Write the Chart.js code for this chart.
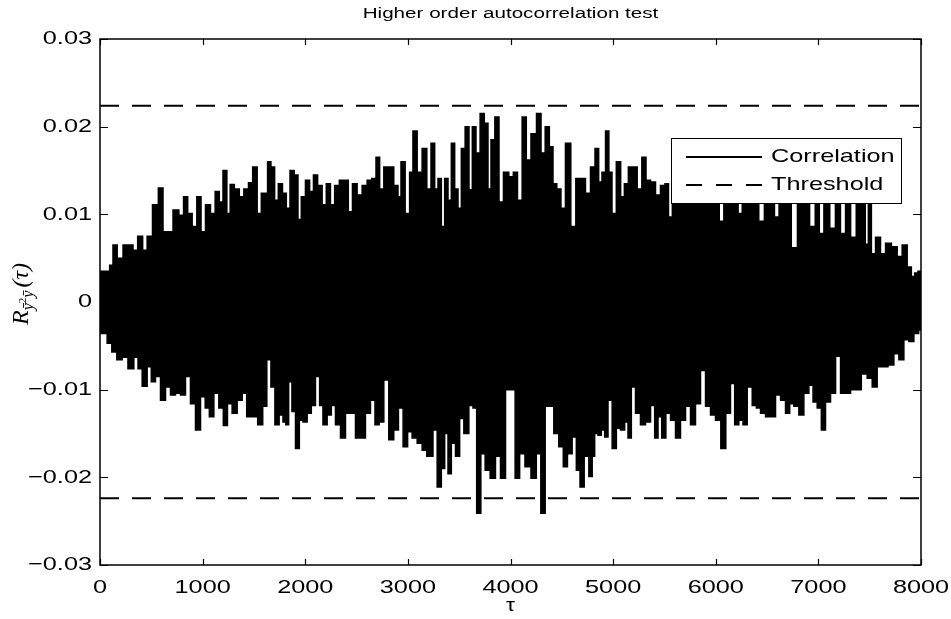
<!DOCTYPE html>
<html>
<head>
<meta charset="utf-8">
<script src="https://cdn.jsdelivr.net/npm/chart.js@4.4.1/dist/chart.umd.min.js"></script>
<style>
html,body{margin:0;padding:0;background:#fff;}
canvas{display:block;}
</style>
</head>
<body>
<canvas id="c" width="951" height="619"></canvas>
<script>
// ---- data ----
const chartTitle = 'Higher order autocorrelation test';
const xTickValues = [0,1000,2000,3000,4000,5000,6000,7000,8000];
const xTickLabels = ['0','1000','2000','3000','4000','5000','6000','7000','8000'];
const yTickValues = [-0.03,-0.02,-0.01,0,0.01,0.02,0.03];
const yTickLabels = ['\u22120.03','\u22120.02','\u22120.01','0','0.01','0.02','0.03'];
const threshold = 0.0224;

// upper extremes of the correlation trace
const upperTau = [0,78,110,143,192,257,305,338,396,435,484,539,598,630,679,744,793,835,874,922,965,1004,1052,1101,1143,1182,1215,1257,1280,1338,1377,1426,1468,1507,1556,1588,1620,1646,1685,1718,1757,1799,1832,1871,1913,1945,1978,2026,2059,2101,2140,2189,2221,2270,2303,2361,2400,2439,2481,2530,2579,2627,2670,2709,2741,2790,2838,2887,2920,2946,3001,3033,3066,3115,3163,3206,3245,3277,3310,3342,3375,3407,3440,3472,3505,3537,3579,3612,3644,3683,3725,3764,3797,3823,3872,3904,3959,4008,4047,4089,4138,4170,4229,4278,4317,4359,4398,4430,4472,4511,4560,4615,4658,4706,4755,4804,4843,4875,4908,4944,4973,5005,5057,5090,5129,5168,5210,5259,5301,5340,5389,5437,5486,5525,5554,5600,5650,5700,5760,5810,5860,5910,5960,6010,6058,6100,6150,6200,6236,6280,6330,6390,6448,6500,6550,6594,6640,6700,6772,6820,6880,6949,6990,7028,7080,7142,7190,7240,7290,7338,7400,7440,7474,7500,7533,7581,7630,7679,7744,7792,7841,7890,7922,7955,7987,8000];
const upperValue = [0.0035,0.0035,0.0042,0.0065,0.0050,0.0065,0.0065,0.0059,0.0075,0.0059,0.0075,0.0111,0.0130,0.0080,0.0080,0.0105,0.0099,0.0120,0.0101,0.0086,0.0120,0.0080,0.0111,0.0101,0.0126,0.0114,0.0150,0.0101,0.0134,0.0129,0.0120,0.0129,0.0136,0.0154,0.0101,0.0124,0.0124,0.0160,0.0154,0.0116,0.0135,0.0124,0.0107,0.0150,0.0145,0.0094,0.0120,0.0139,0.0126,0.0145,0.0133,0.0111,0.0135,0.0111,0.0133,0.0139,0.0139,0.0103,0.0135,0.0122,0.0133,0.0139,0.0141,0.0165,0.0129,0.0154,0.0154,0.0133,0.0120,0.0160,0.0101,0.0148,0.0195,0.0148,0.0175,0.0129,0.0181,0.0129,0.0141,0.0086,0.0141,0.0116,0.0181,0.0129,0.0107,0.0175,0.0200,0.0128,0.0200,0.0170,0.0215,0.0204,0.0129,0.0185,0.0211,0.0114,0.0148,0.0143,0.0148,0.0116,0.0211,0.0162,0.0192,0.0215,0.0170,0.0200,0.0177,0.0135,0.0129,0.0107,0.0181,0.0086,0.0141,0.0141,0.0124,0.0154,0.0175,0.0137,0.0148,0.0195,0.0148,0.0101,0.0160,0.0120,0.0135,0.0154,0.0154,0.0129,0.0165,0.0139,0.0137,0.0122,0.0133,0.0135,0.0097,0.0125,0.0118,0.0130,0.0120,0.0132,0.0118,0.0126,0.0120,0.0128,0.0092,0.0124,0.0119,0.0126,0.0101,0.0124,0.0118,0.0125,0.0092,0.0122,0.0116,0.0097,0.0120,0.0115,0.0062,0.0118,0.0114,0.0086,0.0116,0.0078,0.0115,0.0084,0.0114,0.0078,0.0114,0.0074,0.0115,0.0114,0.0066,0.0115,0.0055,0.0074,0.0055,0.0067,0.0063,0.0052,0.0065,0.0040,0.0029,0.0033,0.0035,0.0030];

// lower extremes of the correlation trace
const lowerTau = [0,45,94,136,192,240,305,354,387,435,484,516,565,614,663,711,760,809,857,906,955,1004,1046,1085,1134,1182,1221,1263,1312,1361,1410,1449,1507,1566,1605,1646,1685,1724,1767,1799,1822,1854,1887,1923,1962,1994,2043,2075,2124,2156,2189,2238,2270,2319,2368,2416,2465,2514,2562,2611,2660,2699,2741,2790,2838,2887,2929,2978,3017,3066,3115,3163,3206,3228,3261,3310,3342,3375,3407,3440,3488,3521,3570,3618,3651,3690,3732,3774,3829,3878,3927,3976,4024,4066,4112,4170,4229,4274,4317,4359,4398,4446,4495,4534,4576,4625,4658,4697,4739,4788,4804,4836,4869,4901,4934,4966,5015,5048,5096,5129,5161,5194,5242,5291,5340,5389,5421,5454,5493,5535,5584,5632,5681,5730,5778,5827,5876,5925,5973,6022,6077,6119,6168,6201,6249,6282,6331,6380,6412,6461,6509,6558,6607,6656,6704,6737,6786,6834,6883,6932,6964,7013,7045,7094,7143,7192,7240,7289,7338,7386,7451,7500,7549,7597,7646,7711,7760,7809,7857,7906,7955,8000];
const lowerValue = [-0.0036,-0.0036,-0.0047,-0.0057,-0.0066,-0.0063,-0.0076,-0.0063,-0.0076,-0.0096,-0.0074,-0.0091,-0.0085,-0.0112,-0.0097,-0.0106,-0.0104,-0.0106,-0.0085,-0.0116,-0.0146,-0.0108,-0.0121,-0.0131,-0.0104,-0.0121,-0.0141,-0.0116,-0.0127,-0.0112,-0.0104,-0.0131,-0.0131,-0.0140,-0.0119,-0.0066,-0.0097,-0.0140,-0.0129,-0.0137,-0.0140,-0.0091,-0.0125,-0.0167,-0.0135,-0.0137,-0.0127,-0.0118,-0.0085,-0.0118,-0.0140,-0.0129,-0.0118,-0.0140,-0.0155,-0.0127,-0.0127,-0.0155,-0.0155,-0.0127,-0.0112,-0.0140,-0.0137,-0.0089,-0.0157,-0.0146,-0.0121,-0.0165,-0.0148,-0.0155,-0.0161,-0.0169,-0.0176,-0.0176,-0.0146,-0.0211,-0.0190,-0.0150,-0.0196,-0.0161,-0.0176,-0.0133,-0.0150,-0.0118,-0.0121,-0.0241,-0.0173,-0.0192,-0.0201,-0.0176,-0.0201,-0.0100,-0.0100,-0.0201,-0.0173,-0.0188,-0.0201,-0.0173,-0.0241,-0.0119,-0.0119,-0.0150,-0.0165,-0.0188,-0.0173,-0.0154,-0.0192,-0.0211,-0.0176,-0.0199,-0.0176,-0.0150,-0.0152,-0.0146,-0.0154,-0.0112,-0.0167,-0.0144,-0.0146,-0.0137,-0.0155,-0.0097,-0.0127,-0.0140,-0.0137,-0.0118,-0.0155,-0.0131,-0.0155,-0.0127,-0.0135,-0.0155,-0.0135,-0.0119,-0.0140,-0.0116,-0.0078,-0.0119,-0.0129,-0.0135,-0.0167,-0.0127,-0.0093,-0.0140,-0.0135,-0.0140,-0.0097,-0.0118,-0.0121,-0.0127,-0.0131,-0.0131,-0.0106,-0.0112,-0.0127,-0.0116,-0.0119,-0.0129,-0.0104,-0.0095,-0.0114,-0.0121,-0.0146,-0.0114,-0.0104,-0.0062,-0.0104,-0.0104,-0.0100,-0.0100,-0.0082,-0.0087,-0.0097,-0.0074,-0.0074,-0.0072,-0.0059,-0.0066,-0.0043,-0.0045,-0.0036,-0.0032];

const seriesNames = ['Correlation','Threshold'];

// ---- drawing ----
const SX = 1.33;
const FONT = '"Liberation Sans", Arial, Helvetica, sans-serif';

function sText(ctx, txt, x, y, align, baseline, size, sx) {
  ctx.save();
  ctx.translate(x, y);
  ctx.scale(sx, 1);
  ctx.font = size + 'px ' + FONT;
  ctx.textAlign = align;
  ctx.textBaseline = baseline;
  ctx.fillStyle = '#000';
  ctx.fillText(txt, 0, 0);
  ctx.restore();
}

const decor = {
  id: 'decor',
  afterDatasetsDraw(chart) {
    const ctx = chart.ctx;
    const lx = 671, ly = 138, lw = 230, lh = 65;
    ctx.save();
    ctx.fillStyle = '#fff';
    ctx.fillRect(lx, ly, lw, lh);
    ctx.strokeStyle = '#000';
    ctx.lineWidth = 1;
    ctx.strokeRect(lx + 0.5, ly + 0.5, lw, lh);
    ctx.lineWidth = 2;
    ctx.beginPath(); ctx.moveTo(686, 157); ctx.lineTo(762, 157); ctx.stroke();
    ctx.setLineDash([16, 14]);
    ctx.beginPath(); ctx.moveTo(686, 185); ctx.lineTo(762, 185); ctx.stroke();
    ctx.setLineDash([]);
    ctx.restore();
    sText(ctx, seriesNames[0], 771, 157, 'left', 'middle', 19, SX);
    sText(ctx, seriesNames[1], 771, 185, 'left', 'middle', 19, SX);
  },
  afterDraw(chart) {
    const ctx = chart.ctx;
    const a = chart.chartArea;
    const xs = chart.scales.x, ys = chart.scales.y;
    ctx.save();
    ctx.strokeStyle = '#000';
    ctx.lineWidth = 1.5;
    ctx.strokeRect(a.left, a.top, a.right - a.left, a.bottom - a.top);
    ctx.lineWidth = 1.2;
    ctx.beginPath();
    xTickValues.forEach(v => {
      const px = Math.round(xs.getPixelForValue(v)) + 0.5;
      ctx.moveTo(px, a.bottom); ctx.lineTo(px, a.bottom - 6);
      ctx.moveTo(px, a.top); ctx.lineTo(px, a.top + 6);
    });
    yTickValues.forEach(v => {
      const py = Math.round(ys.getPixelForValue(v)) + 0.5;
      ctx.moveTo(a.left, py); ctx.lineTo(a.left + 8, py);
      ctx.moveTo(a.right, py); ctx.lineTo(a.right - 8, py);
    });
    ctx.stroke();
    ctx.restore();
    xTickValues.forEach((v, i) => {
      sText(ctx, xTickLabels[i], xs.getPixelForValue(v), 593, 'center', 'alphabetic', 19, SX);
    });
    yTickValues.forEach((v, i) => {
      sText(ctx, yTickLabels[i], 92, ys.getPixelForValue(v), 'right', 'middle', 19, SX);
    });
    sText(ctx, chartTitle, (a.left + a.right) / 2, 18, 'center', 'alphabetic', 15.5, SX);
    sText(ctx, '\u03C4', (a.left + a.right) / 2, 611, 'center', 'alphabetic', 19, 1.2);
    // y label  R_{ȳ²ȳ}(τ)
    ctx.save();
    ctx.translate(28, 294);
    ctx.rotate(-Math.PI / 2);
    ctx.fillStyle = '#000';
    ctx.textBaseline = 'alphabetic';
    ctx.textAlign = 'left';
    const big = 'italic 24px "Liberation Serif", "DejaVu Serif", serif';
    const small = 'italic 16px "Liberation Serif", "DejaVu Serif", serif';
    const tiny = '11px "Liberation Serif", "DejaVu Serif", serif';
    ctx.font = big; const wR = ctx.measureText('R').width;
    ctx.font = small; const wy = ctx.measureText('\u0233').width;
    ctx.font = tiny; const w2 = ctx.measureText('2').width;
    ctx.font = big; const wp = ctx.measureText('(\u03C4)').width;
    const total = wR + wy + w2 + wy + wp + 3;
    let cx = -total / 2;
    ctx.font = big; ctx.fillText('R', cx, 0); cx += wR;
    ctx.font = small; ctx.fillText('\u0233', cx, 5); cx += wy;
    ctx.font = tiny; ctx.fillText('2', cx, -2); cx += w2;
    ctx.font = small; ctx.fillText('\u0233', cx, 5); cx += wy + 3;
    ctx.font = big; ctx.fillText('(\u03C4)', cx, 0);
    ctx.restore();
  }
};

const toPts = (xs, ys) => xs.map((t, i) => ({ x: t, y: ys[i] }));

new Chart(document.getElementById('c'), {
  type: 'line',
  data: {
    datasets: [
      { label: seriesNames[0], data: toPts(upperTau, upperValue), borderColor: '#000', backgroundColor: '#000', borderWidth: 1.5, pointRadius: 0, fill: 'origin', stepped: 'middle' },
      { label: seriesNames[0] + ' (lower)', data: toPts(lowerTau, lowerValue), borderColor: '#000', backgroundColor: '#000', borderWidth: 1.5, pointRadius: 0, fill: 'origin', stepped: 'middle' },
      { label: seriesNames[1], data: [{ x: 0, y: threshold }, { x: 8000, y: threshold }], borderColor: '#000', borderWidth: 2, borderDash: [19, 13], pointRadius: 0, fill: false },
      { label: seriesNames[1] + ' (lower)', data: [{ x: 0, y: -threshold }, { x: 8000, y: -threshold }], borderColor: '#000', borderWidth: 2, borderDash: [19, 13], pointRadius: 0, fill: false }
    ]
  },
  options: {
    responsive: false,
    animation: false,
    layout: { padding: { left: 100, right: 30, top: 39, bottom: 54 } },
    scales: {
      x: { type: 'linear', min: 0, max: 8000, display: false },
      y: { type: 'linear', min: -0.03, max: 0.03, display: false }
    },
    plugins: { legend: { display: false }, tooltip: { enabled: false }, title: { display: false } }
  },
  plugins: [decor]
});
</script>
</body>
</html>
